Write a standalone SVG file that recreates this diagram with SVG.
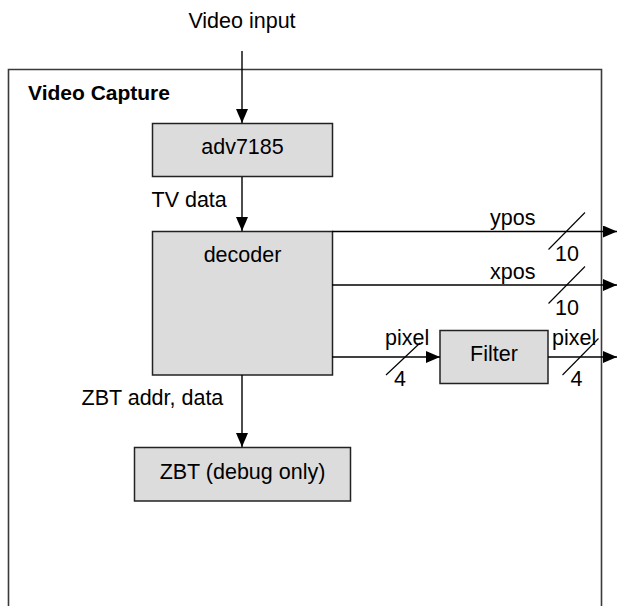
<svg xmlns="http://www.w3.org/2000/svg" width="617" height="606" viewBox="0 0 617 606">
<defs>
<style>
text{font-family:"Liberation Sans",Arial,sans-serif;font-size:21.5px;fill:#000}
.b{font-weight:bold}
.box{fill:#dcdcdc;stroke:#222;stroke-width:1.5}
.ln{stroke:#000;stroke-width:1.4;fill:none}
.sl{stroke:#000;stroke-width:1.1;fill:none}
</style>
<marker id="ah" viewBox="0 0 14 12" refX="14" refY="6" markerWidth="14" markerHeight="12" markerUnits="userSpaceOnUse" orient="auto">
<path d="M0,0 L14,6 L0,12 z" fill="#000"/>
</marker>
</defs>
<rect width="617" height="606" fill="#fff"/>
<g id="video-capture">
<path d="M8.5,606 V69.5 H601.5 V606" fill="none" stroke="#3a3a3a" stroke-width="1.6"/>
<text class="b" x="28" y="100" style="font-size:21px">Video Capture</text>
</g>
<text x="242" y="28" text-anchor="middle">Video input</text>
<g id="adv7185">
<rect class="box" x="152.5" y="123.5" width="180" height="53"/>
<text x="242.5" y="154" text-anchor="middle">adv7185</text>
</g>
<g id="decoder">
<rect class="box" x="152.5" y="231.5" width="180" height="143.5"/>
<text x="242.5" y="261.5" text-anchor="middle">decoder</text>
</g>
<g id="filter">
<rect class="box" x="440" y="330.5" width="108" height="53"/>
<text x="494" y="361" text-anchor="middle">Filter</text>
</g>
<g id="zbt">
<rect class="box" x="134.5" y="447.5" width="216" height="53.5"/>
<text x="242.5" y="478.5" text-anchor="middle">ZBT (debug only)</text>
</g>
<g id="connectors">
<line class="ln" x1="242" y1="51" x2="242" y2="123" marker-end="url(#ah)"/>
<line class="ln" x1="242" y1="177" x2="242" y2="231" marker-end="url(#ah)"/>
<text x="151.5" y="207">TV data</text>
<line class="ln" x1="332" y1="231.5" x2="617" y2="231.5" marker-end="url(#ah)"/>
<text x="490" y="225">ypos</text>
<line class="sl" x1="548.5" y1="249.5" x2="585" y2="212.5"/>
<text x="555" y="261">10</text>
<line class="ln" x1="332" y1="285" x2="617" y2="285" marker-end="url(#ah)"/>
<text x="490" y="278.5">xpos</text>
<line class="sl" x1="548.5" y1="303.5" x2="585" y2="266.5"/>
<text x="555" y="315">10</text>
<line class="ln" x1="332" y1="357" x2="440" y2="357" marker-end="url(#ah)"/>
<text x="385" y="345">pixel</text>
<line class="sl" x1="386" y1="375" x2="420" y2="343"/>
<text x="394" y="386">4</text>
<line class="ln" x1="548" y1="357" x2="617" y2="357" marker-end="url(#ah)"/>
<text x="552" y="345">pixel</text>
<line class="sl" x1="562.5" y1="375" x2="598.5" y2="338.5"/>
<text x="570.5" y="386">4</text>
<line class="ln" x1="242" y1="375" x2="242" y2="447" marker-end="url(#ah)"/>
<text x="81.5" y="405">ZBT addr, data</text>
</g>
</svg>
